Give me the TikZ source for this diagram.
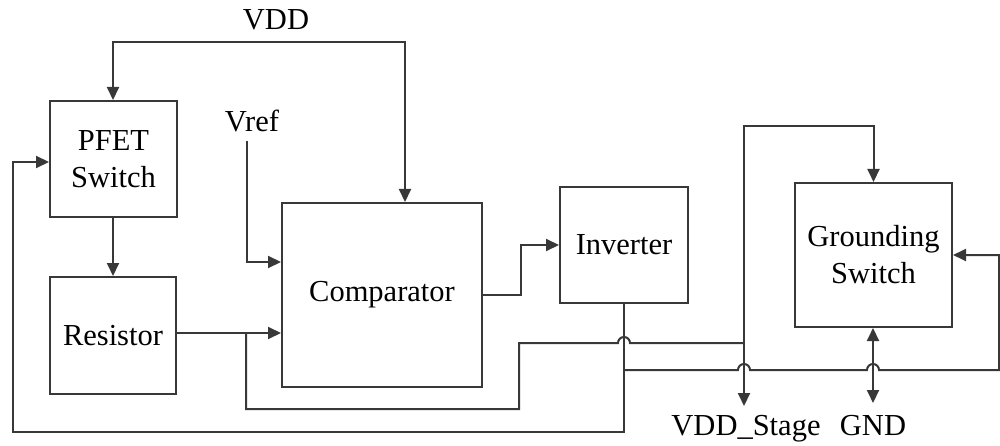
\documentclass[tikz,border=0pt]{standalone}
\usepackage{fontspec}
\setmainfont{Liberation Serif}
\usetikzlibrary{arrows.meta}
\definecolor{linec}{gray}{0.22}
\begin{document}
\begin{tikzpicture}[x=1pt,y=-1pt,
  blk/.style={draw=linec,line width=2pt,inner sep=0pt,align=center,font=\fontsize{30.5}{37}\selectfont},
  wire/.style={draw=linec,line width=2pt},
  tip/.tip={Triangle[length=13pt,width=12pt]},
  arr/.style={wire,-tip},
  darr/.style={wire,tip-tip},
  lbl/.style={font=\fontsize{30.5}{36}\selectfont,inner sep=0pt,anchor=base}]
\useasboundingbox (0,0) rectangle (1000,446);
% blocks
\node[blk,minimum width=127pt,minimum height=116pt] (pfet) at (113.5,159) {PFET\\Switch};
\node[blk,minimum width=126pt,minimum height=117pt] (res) at (113,335.5) {Resistor};
\node[blk,minimum width=200pt,minimum height=184pt] (comp) at (382,295) {Comparator};
\node[blk,minimum width=128pt,minimum height=116pt] (inv) at (624,245) {Inverter};
\node[blk,minimum width=157pt,minimum height=144pt] (gsw) at (873.5,255) {Grounding\\Switch};
% labels
\node[lbl] (vdd) at (276,30) {VDD};
\node[lbl] (vref) at (252,132) {Vref};
\node[lbl] (vdds) at (746,435) {VDD\_Stage};
\node[lbl] (gnd) at (873,435) {GND};
% coordinates
\coordinate (vddL) at (113,42);
\coordinate (vddR) at (405,42);
\coordinate (vrefT) at (247,141);
\coordinate (j1) at (246,333);
\coordinate (vs) at (744,126);
\coordinate (vsTip) at (744,406);
\coordinate (gndTip) at (873,403);
\coordinate (br) at (624,370);
% VDD
\draw[darr] (vddL |- pfet.north) -- (vddL) -- (vddR) -- (vddR |- comp.north);
% PFET -> Resistor
\draw[arr] (pfet.south -| 113,0) -- (res.north -| 113,0);
% Vref
\draw[arr] (vrefT) |- (comp.west |- 0,262);
% Resistor -> Comparator
\draw[arr] (res.east |- 0,333) -- (comp.west |- 0,333);
% Comparator -> Inverter
\draw[arr] (comp.east) -- (521,295) |- (inv.west);
% feedback from resistor node to VDD_Stage line
\draw[wire] (j1) -- (246,409) -- (519,409) -- (519,343) -- (618,343)
  arc[start angle=180,end angle=0,radius=6pt] -- (744,343);
% VDD_Stage and grounding switch top
\draw[darr] (vsTip) -- (vs) -- (vs -| gsw.north) -- (gsw.north);
% GND
\draw[darr] (gndTip) -- (gndTip |- gsw.south);
% inverter output loop to PFET
\draw[arr] (inv.south) -- (624,432) -- (13,432) -- (13,162) -- (pfet.west |- 0,162);
% inverter output to grounding switch
\draw[arr] (br) -- (738,370) arc[start angle=180,end angle=0,radius=6pt]
  -- (867,370) arc[start angle=180,end angle=0,radius=6pt]
  -- (999,370) -- (999,255) -- (gsw.east);
\end{tikzpicture}
\end{document}
